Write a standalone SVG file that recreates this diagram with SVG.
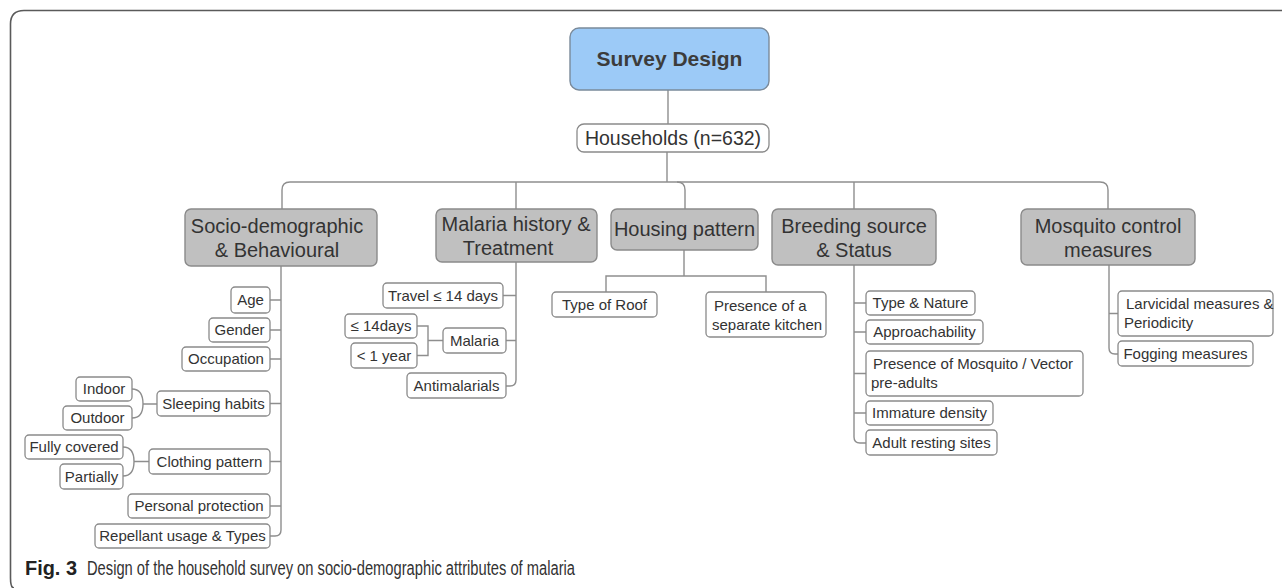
<svg xmlns="http://www.w3.org/2000/svg" width="1282" height="588" viewBox="0 0 1282 588">
<style>
.frame{fill:none;stroke:#5a5a5a;stroke-width:1.6}
.ln{fill:none;stroke:#8e8e8e;stroke-width:1.4}
.root{fill:#9ccaf7;stroke:#7a8a9a;stroke-width:1.4}
.l1{fill:#c0c0c0;stroke:#8a8a8a;stroke-width:1.4}
.leaf{fill:#ffffff;stroke:#8a8a8a;stroke-width:1.3}
text{font-family:"Liberation Sans",Arial,sans-serif;fill:#333333}
.t-root{font-size:21px;font-weight:bold;fill:#3c3c3c;text-anchor:middle}
.t-hh{font-size:19.5px;text-anchor:middle}
.t-l1{font-size:20px;text-anchor:middle}
.t-leaf{font-size:15px;text-anchor:middle}
.t-left{font-size:15px}
.cap-b{font-size:19.5px;font-weight:bold;fill:#222}
.cap{font-size:19.5px;fill:#333}
</style>
<path class="frame" d="M1282,10.5 H24 Q10.5,10.5 10.5,24 V578 Q10.5,588 14,588"/>
<g id="connectors">
<path class="ln" d="M668,90 V124"/>
<path class="ln" d="M667,152 V182"/>
<path class="ln" d="M282,209 V190 Q282,182 290,182 H1100 Q1108,182 1108,190 V209"/>
<path class="ln" d="M516,182 V209"/>
<path class="ln" d="M677,182 Q685,182 685,190 V209"/>
<path class="ln" d="M854,182 V209"/>
<path class="ln" d="M281,266 V530 Q281,536 275,536 H270"/>
<path class="ln" d="M270,300 H281 M270,330 H281 M270,359 H281 M270,403.5 H281 M270,461.5 H281 M270,506 H281"/>
<path class="ln" d="M132,389 C140,389 143,395 143,404 C143,412 140,418 132,418 M143,404 H157"/>
<path class="ln" d="M123,447 C131,447 134,453 134,461.5 C134,470 131,476 123,476 M134,461.5 H149"/>
<path class="ln" d="M516,262 V380 Q516,386 510,386 H506"/>
<path class="ln" d="M503,295.5 H516 M506,340.5 H516"/>
<path class="ln" d="M417,326 H428 V355.5 H417 M428,340.5 H443"/>
<path class="ln" d="M684,250 V276 M606,292 V276 H766 V292"/>
<path class="ln" d="M854,265 V437 Q854,443 860,443 H866"/>
<path class="ln" d="M854,303 H866 M854,332 H866 M854,373.5 H866 M854,413 H866"/>
<path class="ln" d="M1109,265 V348 Q1109,354 1115,354 H1118 M1109,313.5 H1118"/>
</g>
<g id="survey-design"><rect class="root" x="570" y="28" width="199" height="62" rx="9"/><text class="t-root" x="669.5" y="66">Survey Design</text></g>
<g id="households"><rect class="leaf" x="577" y="124" width="192" height="28" rx="7"/><text class="t-hh" x="673" y="145">Households (n=632)</text></g>
<g id="socio"><rect class="l1" x="185" y="209" width="192" height="57" rx="6"/><text class="t-l1" x="277" y="233">Socio-demographic</text><text class="t-l1" x="277" y="257">&amp; Behavioural</text></g>
<g id="malaria-history"><rect class="l1" x="436" y="209" width="161" height="53" rx="6"/><text class="t-l1" x="516" y="231">Malaria history &amp;</text><text class="t-l1" x="508" y="255">Treatment</text></g>
<g id="housing"><rect class="l1" x="611" y="209" width="147" height="41" rx="6"/><text class="t-l1" x="684.5" y="236">Housing pattern</text></g>
<g id="breeding"><rect class="l1" x="772" y="209" width="164" height="56" rx="6"/><text class="t-l1" x="854" y="233">Breeding source</text><text class="t-l1" x="854" y="257">&amp; Status</text></g>
<g id="mosquito-control"><rect class="l1" x="1021" y="209" width="174" height="56" rx="6"/><text class="t-l1" x="1108" y="233">Mosquito control</text><text class="t-l1" x="1108" y="257">measures</text></g>
<g id="age"><rect class="leaf" x="231" y="287" width="39" height="26" rx="4"/><text class="t-leaf" x="250.5" y="305">Age</text></g>
<g id="gender"><rect class="leaf" x="209" y="318" width="61" height="24" rx="4"/><text class="t-leaf" x="239.5" y="335">Gender</text></g>
<g id="occupation"><rect class="leaf" x="182" y="347" width="88" height="24" rx="4"/><text class="t-leaf" x="226" y="364">Occupation</text></g>
<g id="sleeping"><rect class="leaf" x="157" y="391" width="113" height="25" rx="4"/><text class="t-leaf" x="213.5" y="409">Sleeping habits</text></g>
<g id="indoor"><rect class="leaf" x="76" y="377" width="56" height="24" rx="4"/><text class="t-leaf" x="104" y="394">Indoor</text></g>
<g id="outdoor"><rect class="leaf" x="63" y="406" width="69" height="24" rx="4"/><text class="t-leaf" x="97.5" y="423">Outdoor</text></g>
<g id="clothing"><rect class="leaf" x="149" y="449" width="121" height="25" rx="4"/><text class="t-leaf" x="209.5" y="467">Clothing pattern</text></g>
<g id="fully"><rect class="leaf" x="25" y="435" width="98" height="24" rx="4"/><text class="t-leaf" x="74" y="452">Fully covered</text></g>
<g id="partially"><rect class="leaf" x="60" y="464" width="63" height="25" rx="4"/><text class="t-leaf" x="91.5" y="482">Partially</text></g>
<g id="personal"><rect class="leaf" x="128" y="494" width="142" height="24" rx="4"/><text class="t-leaf" x="199" y="511">Personal protection</text></g>
<g id="repellant"><rect class="leaf" x="95" y="524" width="175" height="24" rx="4"/><text class="t-leaf" x="182.5" y="541">Repellant usage &amp; Types</text></g>
<g id="travel"><rect class="leaf" x="383" y="283" width="120" height="25" rx="4"/><text class="t-leaf" x="443" y="301">Travel ≤ 14 days</text></g>
<g id="malaria"><rect class="leaf" x="443" y="328" width="63" height="25" rx="4"/><text class="t-leaf" x="474.5" y="346">Malaria</text></g>
<g id="le14days"><rect class="leaf" x="345" y="314" width="72" height="24" rx="4"/><text class="t-leaf" x="381" y="331">≤ 14days</text></g>
<g id="lt1year"><rect class="leaf" x="351" y="343" width="66" height="25" rx="4"/><text class="t-leaf" x="384" y="361">&lt; 1 year</text></g>
<g id="antimalarials"><rect class="leaf" x="407" y="373" width="99" height="25" rx="4"/><text class="t-leaf" x="456.5" y="391">Antimalarials</text></g>
<g id="roof"><rect class="leaf" x="552" y="292" width="105" height="25" rx="4"/><text class="t-leaf" x="604.5" y="310">Type of Roof</text></g>
<g id="kitchen"><rect class="leaf" x="706" y="292" width="120" height="45" rx="4"/><text class="t-left" x="714" y="311">Presence of a</text><text class="t-left" x="712" y="330">separate kitchen</text></g>
<g id="type-nature"><rect class="leaf" x="866" y="291" width="109" height="24" rx="4"/><text class="t-leaf" x="920.5" y="308">Type &amp; Nature</text></g>
<g id="approach"><rect class="leaf" x="866" y="320" width="117" height="24" rx="4"/><text class="t-leaf" x="924.5" y="337">Approachability</text></g>
<g id="presence-mosq"><rect class="leaf" x="866" y="351" width="217" height="45" rx="4"/><text class="t-left" x="873" y="369">Presence of Mosquito / Vector</text><text class="t-left" x="871" y="388">pre-adults</text></g>
<g id="immature"><rect class="leaf" x="866" y="401" width="127" height="24" rx="4"/><text class="t-leaf" x="929.5" y="418">Immature density</text></g>
<g id="adult"><rect class="leaf" x="866" y="430" width="131" height="25" rx="4"/><text class="t-leaf" x="931.5" y="448">Adult resting sites</text></g>
<g id="larvicidal"><rect class="leaf" x="1118" y="291" width="155" height="45" rx="4"/><text class="t-left" x="1126" y="309">Larvicidal measures &amp;</text><text class="t-left" x="1124" y="328">Periodicity</text></g>
<g id="fogging"><rect class="leaf" x="1118" y="341" width="135" height="25" rx="4"/><text class="t-leaf" x="1185.5" y="359">Fogging measures</text></g>
<g id="caption"><text class="cap-b" x="25" y="575" textLength="52" lengthAdjust="spacingAndGlyphs">Fig. 3</text><text class="cap" x="87" y="575" textLength="488" lengthAdjust="spacingAndGlyphs">Design of the household survey on socio-demographic attributes of malaria</text></g>
</svg>
